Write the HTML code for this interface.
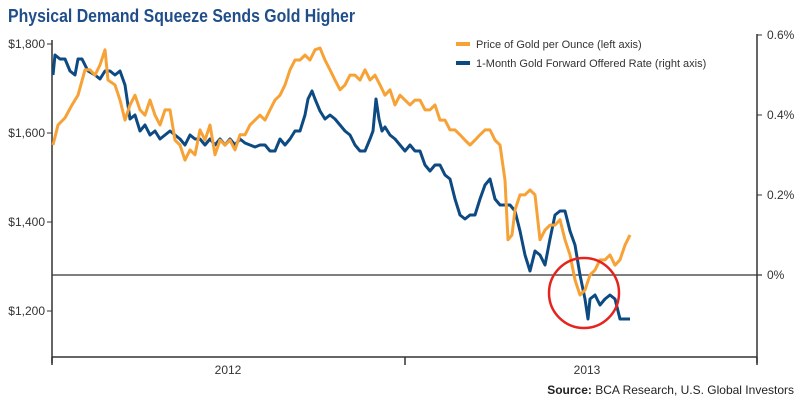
<!DOCTYPE html>
<html><head><meta charset="utf-8"><style>
body{margin:0;background:#fff;width:800px;height:400px;overflow:hidden;font-family:"Liberation Sans",sans-serif}
</style></head><body>
<svg width="800" height="400" id="c" font-family="Liberation Sans, sans-serif">
<text x="8" y="22" font-size="18" font-weight="bold" fill="#1f4e8a" textLength="347" lengthAdjust="spacingAndGlyphs">Physical Demand Squeeze Sends Gold Higher</text>
<g id="axes"></g>
<g id="series"></g>
<circle cx="584" cy="293" r="35" fill="none" stroke="#e52420" stroke-width="2.5"/>
<g>
<line x1="456" y1="44" x2="470" y2="44" stroke="#f7a237" stroke-width="4"/>
<text x="476" y="48" font-size="11" fill="#333">Price of Gold per Ounce (left axis)</text>
<line x1="456" y1="63" x2="470" y2="63" stroke="#0e4a82" stroke-width="4"/>
<text x="476" y="67" font-size="11" fill="#333">1-Month Gold Forward Offered Rate (right axis)</text>
</g>
<text x="794" y="394" font-size="12" fill="#222" text-anchor="end"><tspan font-weight="bold">Source:</tspan> BCA Research, U.S. Global Investors</text>
</svg>
<script>
const goldDays=[1,6,13,20,26,33,38,43,48,53,56,63,68,73,78,83,88,93,98,103,108,113,118,123,128,133,138,143,148,153,158,163,168,173,178,183,188,193,198,203,208,213,218,223,228,233,238,243,248,253,258,263,268,273,278,283,288,293,298,303,308,313,318,323,328,333,338,343,348,353,358,363,368,373,378,383,388,393,398,403,408,413,418,423,428,433,438,443,448,453,456,460,463,468,473,478,483,488,493,498,503,508,513,518,523,528,533,538,543,548,553,558,563,568,573,578];
const goldPrice=[1573,1618,1634,1663,1685,1742,1742,1730,1753,1787,1719,1708,1674,1629,1663,1685,1652,1640,1674,1640,1618,1652,1652,1584,1573,1539,1562,1551,1607,1584,1618,1551,1584,1573,1584,1562,1596,1596,1618,1629,1640,1629,1652,1674,1685,1708,1742,1764,1764,1775,1764,1787,1791,1764,1742,1719,1697,1708,1730,1730,1719,1742,1719,1730,1708,1685,1697,1663,1685,1674,1663,1674,1674,1652,1652,1663,1629,1629,1607,1607,1596,1584,1573,1584,1596,1607,1607,1584,1573,1494,1360,1371,1427,1461,1461,1472,1461,1360,1382,1393,1393,1405,1360,1326,1270,1236,1247,1281,1292,1315,1315,1326,1303,1315,1348,1371];
const rateDays=[1,3,8,13,18,23,26,30,36,43,48,53,58,63,68,73,78,83,88,93,98,103,108,113,118,123,128,133,138,143,148,153,158,163,168,173,178,183,188,193,198,203,208,213,218,223,228,233,238,243,248,253,256,260,263,268,273,278,283,288,293,298,303,308,313,318,321,324,327,330,333,338,343,348,353,358,363,368,373,378,383,388,393,398,403,408,413,418,423,428,433,438,443,448,453,458,463,468,473,478,483,488,493,498,503,508,513,518,523,528,533,536,538,543,548,553,558,563,568,573,578];
const rateValues=[0.50,0.55,0.54,0.54,0.51,0.50,0.54,0.54,0.51,0.50,0.49,0.51,0.51,0.50,0.51,0.475,0.39,0.40,0.36,0.375,0.35,0.36,0.34,0.35,0.36,0.35,0.34,0.325,0.35,0.34,0.34,0.325,0.34,0.325,0.34,0.325,0.34,0.325,0.34,0.33,0.325,0.32,0.325,0.325,0.31,0.31,0.34,0.325,0.34,0.36,0.36,0.40,0.44,0.46,0.44,0.41,0.39,0.40,0.39,0.375,0.36,0.35,0.325,0.31,0.31,0.34,0.36,0.44,0.39,0.36,0.37,0.35,0.34,0.325,0.31,0.325,0.31,0.31,0.275,0.26,0.275,0.275,0.25,0.24,0.19,0.15,0.14,0.15,0.15,0.19,0.225,0.24,0.19,0.175,0.175,0.175,0.16,0.11,0.05,0.01,0.06,0.05,0.025,0.09,0.15,0.16,0.16,0.11,0.075,0,-0.06,-0.11,-0.06,-0.05,-0.075,-0.06,-0.05,-0.06,-0.11,-0.11,-0.11];
const leftTicks=[1800,1600,1400,1200];
const leftTickLabels=["$1,800","$1,600","$1,400","$1,200"];
const rightTicks=[0.6,0.4,0.2,0];
const rightTickLabels=["0.6%","0.4%","0.2%","0%"];
const yearLabels=["2012","2013"];
const yearCenters=[176,535];
const yearBounds=[0,353,705];

const NS="http://www.w3.org/2000/svg";
const X0=52,X1=757,BOT=357;
const xs=d=>X0+d;
const yL=v=>44+(1800-v)*89/200;
const yR=v=>275-v*400;
function mk(tag,attrs,parent,txt){const e=document.createElementNS(NS,tag);for(const k in attrs)e.setAttribute(k,attrs[k]);if(txt!==undefined)e.textContent=txt;parent.appendChild(e);return e;}
const ax=document.getElementById('axes');
let e=mk('line',{x1:X0,y1:40,x2:X0,y2:BOT+6,stroke:'#333','stroke-width':1.5},ax);


e=mk('line',{x1:X1,y1:34,x2:X1,y2:BOT+6,stroke:'#333','stroke-width':1.5},ax);


e=mk('line',{x1:X0,y1:BOT,x2:X1,y2:BOT,stroke:'#333','stroke-width':1.5},ax);


e=mk('line',{x1:X0,y1:yR(0),x2:X1+5,y2:yR(0),stroke:'#333','stroke-width':1.2},ax);


leftTicks.forEach((v,i)=>{
 mk('line',{x1:X0-5,y1:yL(v),x2:X0,y2:yL(v),stroke:'#333'},ax);
 const t=mk('text',{x:X0-7,y:yL(v)+4,'font-size':12,fill:'#333','text-anchor':'end'},ax,leftTickLabels[i]);
 
 
});
rightTicks.forEach((v,i)=>{
 mk('line',{x1:X1,y1:yR(v),x2:X1+5,y2:yR(v),stroke:'#333'},ax);
 const t=mk('text',{x:X1+10,y:yR(v)+4,'font-size':12,fill:'#333'},ax,rightTickLabels[i]);
 
 
});
yearBounds.forEach(d=>mk('line',{x1:xs(d),y1:BOT,x2:xs(d),y2:BOT+8,stroke:'#333','stroke-width':1.5},ax));
yearLabels.forEach((l,i)=>{
 const t=mk('text',{x:xs(yearCenters[i]),y:BOT+17,'font-size':12,fill:'#333','text-anchor':'middle'},ax,l);
 
 
});
const sg=document.getElementById('series');
let p=mk('polyline',{points:goldDays.map((d,i)=>xs(d)+','+yL(goldPrice[i])).join(' '),fill:'none',stroke:'#f7a237','stroke-width':3,'stroke-linejoin':'round'},sg);


p=mk('polyline',{points:rateDays.map((d,i)=>xs(d)+','+yR(rateValues[i])).join(' '),fill:'none',stroke:'#0e4a82','stroke-width':3,'stroke-linejoin':'round'},sg);


sg.insertBefore(sg.lastChild,sg.firstChild);
</script>
</body></html>
